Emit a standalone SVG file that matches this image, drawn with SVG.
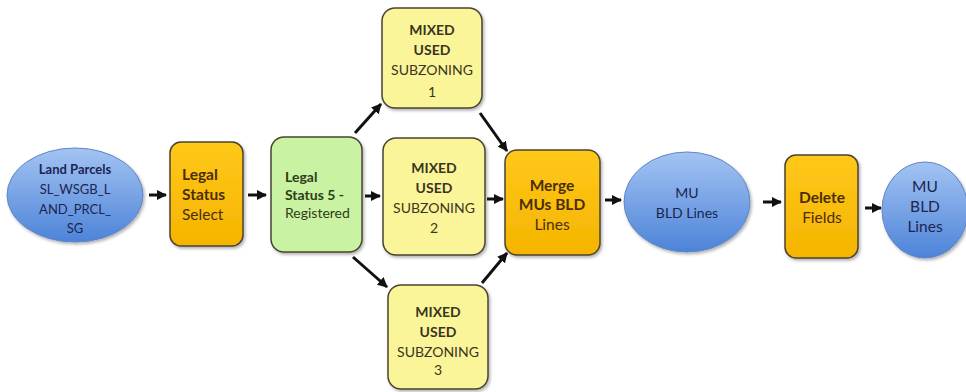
<svg xmlns="http://www.w3.org/2000/svg" width="966" height="392" viewBox="0 0 966 392">
<defs>
<linearGradient id="blue" x1="0" y1="0" x2="0" y2="1">
<stop offset="0" stop-color="#a3c4f3"/>
<stop offset="1" stop-color="#4d83d8"/>
</linearGradient>
<linearGradient id="gold" x1="0" y1="0" x2="0" y2="1">
<stop offset="0" stop-color="#ffc81a"/>
<stop offset="1" stop-color="#f5b400"/>
</linearGradient>
<marker id="ah" viewBox="0 0 10 10" refX="9" refY="5" markerWidth="3.4" markerHeight="3.4" orient="auto" markerUnits="strokeWidth">
<path d="M0,0 L10,5 L0,10 Z" fill="#111"/>
</marker>
<filter id="sh" x="-10%" y="-10%" width="130%" height="130%">
<feDropShadow dx="1.5" dy="2" stdDeviation="1.5" flood-color="#000" flood-opacity="0.3"/>
</filter>
</defs>
<style>
text{font-family:Lato,"Open Sans","Liberation Sans",sans-serif;font-size:14px;}
.b{font-weight:bold;}
.s13{font-size:13px;}
.s15{font-size:15.5px;}
.box{stroke:#4a4330;stroke-width:1.5;filter:url(#sh);}
.gold{fill:url(#gold);}
.yel{fill:#fbf59a;}
.grn{fill:#c9f2a2;}
.ell{fill:url(#blue);stroke:#5f86c4;stroke-width:1;filter:url(#sh);}
.tb{fill:#4a2e08;}
.tg{fill:#2f3d18;}
.ty{fill:#3a3520;}
.tn{fill:#1b2550;}
.c{text-anchor:middle;}
#edges line{stroke:#111;stroke-width:3;marker-end:url(#ah);}
</style>

<g id="land">
<ellipse class="ell" cx="75" cy="195" rx="68" ry="47"/>
<text class="tn b c s13" x="75" y="174">Land Parcels</text>
<text class="tn c s13" x="75" y="194">SL_WSGB_L</text>
<text class="tn c s13" x="75" y="214">AND_PRCL_</text>
<text class="tn c s13" x="75" y="233">SG</text>
</g>

<g id="legal">
<rect class="box gold" x="170" y="142" width="73" height="104" rx="11"/>
<text class="tb b s15" x="182" y="180">Legal</text>
<text class="tb b s15" x="182" y="200">Status</text>
<text class="tb s15" x="182" y="220">Select</text>
</g>

<g id="legal5">
<rect class="box grn" x="271" y="137" width="91" height="115" rx="13"/>
<text class="tg b" x="285" y="182">Legal</text>
<text class="tg b" x="285" y="200">Status 5 -</text>
<text class="tg" x="285" y="218">Registered</text>
</g>

<g id="mix1">
<rect class="box yel" x="382" y="8" width="100" height="100" rx="13"/>
<text class="ty b c" x="432" y="35">MIXED</text>
<text class="ty b c" x="432" y="55">USED</text>
<text class="ty c" x="432" y="75">SUBZONING</text>
<text class="ty c" x="432" y="97">1</text>
</g>

<g id="mix2">
<rect class="box yel" x="383" y="138" width="102" height="117" rx="13"/>
<text class="ty b c" x="434" y="173">MIXED</text>
<text class="ty b c" x="434" y="193">USED</text>
<text class="ty c" x="434" y="213">SUBZONING</text>
<text class="ty c" x="434" y="233">2</text>
</g>

<g id="mix3">
<rect class="box yel" x="388" y="285" width="100" height="104" rx="13"/>
<text class="ty b c" x="438" y="317">MIXED</text>
<text class="ty b c" x="438" y="337">USED</text>
<text class="ty c" x="438" y="357">SUBZONING</text>
<text class="ty c" x="438" y="375">3</text>
</g>

<g id="merge">
<rect class="box gold" x="505" y="150" width="95" height="105" rx="12"/>
<text class="tb b c s15" x="552" y="191">Merge</text>
<text class="tb b c s15" x="552" y="210">MUs BLD</text>
<text class="tb c s15" x="552" y="230">Lines</text>
</g>

<g id="mu1">
<ellipse class="ell" cx="687" cy="202" rx="63" ry="50"/>
<text class="tn c" x="687" y="198">MU</text>
<text class="tn c" x="687" y="218">BLD Lines</text>
</g>

<g id="delete">
<rect class="box gold" x="785" y="155" width="73" height="103" rx="11"/>
<text class="tb b c s15" x="822" y="203">Delete</text>
<text class="tb c s15" x="822" y="223">Fields</text>
</g>

<g id="mu2">
<ellipse class="ell" cx="925" cy="210" rx="43" ry="48"/>
<text class="tn c s15" x="925" y="192">MU</text>
<text class="tn c s15" x="925" y="212">BLD</text>
<text class="tn c s15" x="925" y="232">Lines</text>
</g>

<g id="edges">
<line x1="149" y1="195" x2="166" y2="195"/>
<line x1="248" y1="195" x2="266" y2="195"/>
<line x1="365" y1="196" x2="380" y2="196"/>
<line x1="355" y1="133" x2="381" y2="104"/>
<line x1="353" y1="257" x2="387" y2="287"/>
<line x1="480" y1="113" x2="507" y2="151"/>
<line x1="487" y1="199" x2="503" y2="199"/>
<line x1="482" y1="283" x2="507" y2="253"/>
<line x1="605" y1="200" x2="621" y2="200"/>
<line x1="763" y1="202" x2="781" y2="202"/>
<line x1="865" y1="208" x2="881" y2="208"/>
</g>
</svg>
